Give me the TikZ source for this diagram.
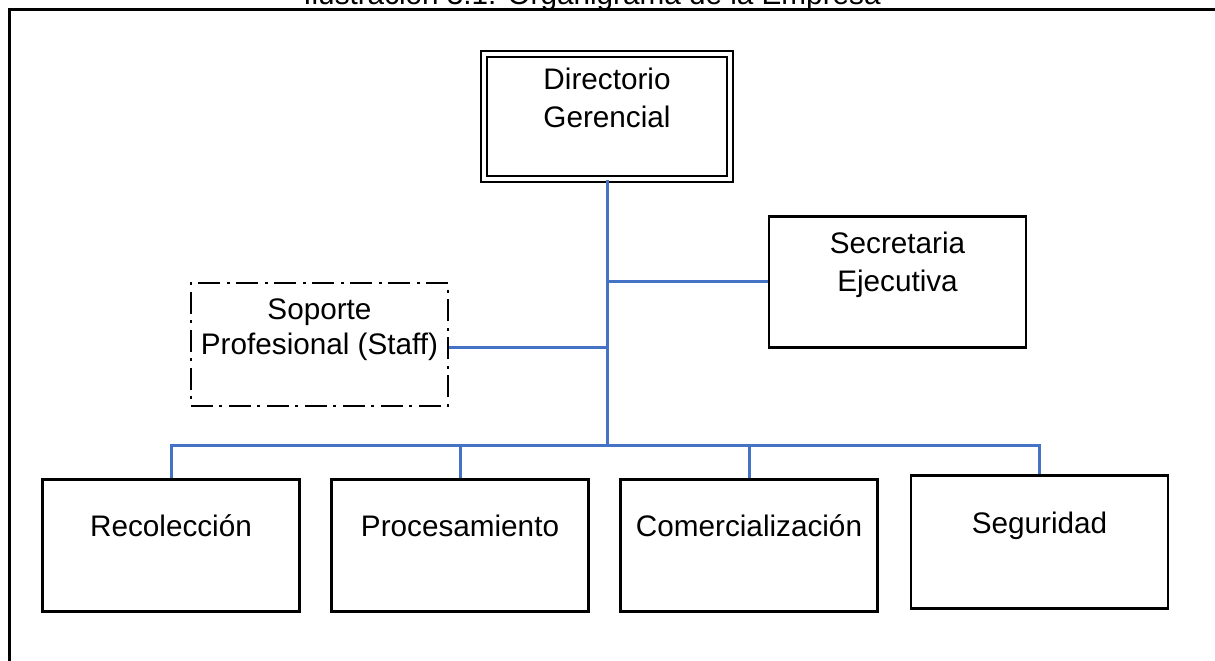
\documentclass[tikz,border=0pt]{standalone}
\usepackage{fontspec}
\setmainfont{Liberation Sans}
\usepackage{tikz}
\usetikzlibrary{positioning, calc}
\definecolor{lineablue}{HTML}{4472C4}

\begin{document}
\begin{tikzpicture}[
  x=0.5pt, y=-0.5pt,
  caja/.style={draw, line width=1.4pt, anchor=north, inner xsep=0pt, inner ysep=0pt,
    minimum width=128.5pt, align=center, font=\fontsize{14.85pt}{19pt}\selectfont},
  unidad/.style={caja, text height=28.5pt, text depth=37.5pt},
  apoyo/.style={caja, dash pattern=on 11pt off 3pt on 1.5pt off 3.5pt, line width=1.1pt},
  direccion/.style={caja, line width=1pt, double, double distance=2.35pt, minimum width=123pt},
  enlace/.style={draw=lineablue, line width=1.5pt},
]
  \useasboundingbox (0,0) rectangle (1215,660);

  % Frame and caption
  \draw[line width=1.5pt] (1240,9.5) -- (9.5,9.5) -- (9.5,690);
  \node[anchor=base, font=\fontsize{14.85pt}{19pt}\selectfont] (titulo) at (592,4)
    {Ilustración 3.1: Organigrama de la Empresa};

  % Nodes (text height runs down to the last baseline)
  \node[direccion, text height=36.5pt, text depth=26pt] (dir) at (607,53) {Directorio\\Gerencial};
  \node[caja, text height=37.5pt, text depth=28pt] (sec) at (897.5,215) {Secretaria\\Ejecutiva};
  \node[apoyo, text height=35.5pt, text depth=26pt, font=\fontsize{14.85pt}{17.5pt}\selectfont] (sop) at (319.5,282) {Soporte\\Profesional (Staff)};
  \node[unidad] (rec) at (171,478) {Recolección};
  \node[unidad] (pro) at (460,478) {Procesamiento};
  \node[unidad] (com) at (749,478) {Comercialización};
  \node[unidad, text height=29pt] (seg) at (1039.5,474) {Seguridad};

  \coordinate (bus) at (607,445);

  % Connectors
  \draw[enlace] (dir.south) -- (dir.south |- bus);
  \draw[enlace] (sec.west) -- (sec.west -| dir.south);
  \draw[enlace] ([yshift=-1.5pt]sop.east) -- ([yshift=-1.5pt]sop.east -| dir.south);
  \draw[enlace] (rec.north) |- (bus) -| (seg.north);
  \draw[enlace] (pro.north) -- (pro.north |- bus);
  \draw[enlace] (com.north) -- (com.north |- bus);

\end{tikzpicture}
\end{document}
